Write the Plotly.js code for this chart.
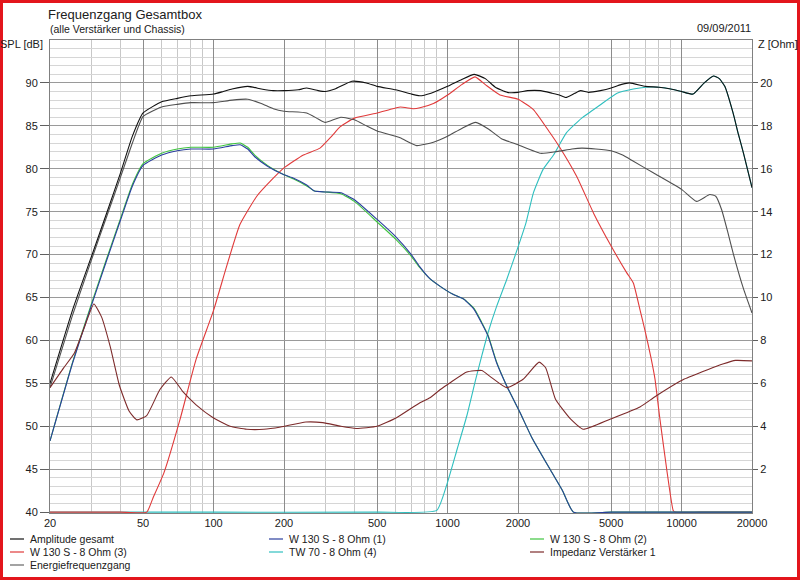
<!DOCTYPE html>
<html>
<head>
<meta charset="utf-8">
<script src="https://cdn.plot.ly/plotly-3.0.1.min.js"></script>
<style>
  html, body { margin: 0; padding: 0; background: #ffffff; }
  #chart { width: 800px; height: 580px; }
</style>
</head>
<body>
<div id="chart"></div>
<script>
// ---------- data ----------
const ampFreq = [20, 25, 30, 35, 40, 45, 50, 60, 70, 80, 100, 110, 120, 140, 160, 180, 200, 230, 250, 280, 300, 330, 390, 450, 500, 600, 700, 760, 850, 1000, 1150, 1300, 1450, 1600, 1800, 2000, 2200, 2500, 2800, 3000, 3200, 3500, 3700, 4000, 4500, 5000, 5500, 6000, 7000, 8000, 9000, 10000, 11200, 12500, 13700, 14500, 15300, 16600, 17500, 18400, 20000];
const ampSPL  = [55.0, 63.6, 69.7, 74.9, 79.5, 83.8, 86.5, 87.8, 88.2, 88.5, 88.7, 89.0, 89.3, 89.6, 89.3, 89.1, 89.1, 89.2, 89.4, 89.1, 89.0, 89.3, 90.2, 90.0, 89.6, 89.2, 88.7, 88.5, 88.8, 89.6, 90.4, 91.0, 90.5, 89.5, 88.9, 88.9, 89.1, 89.1, 88.8, 88.6, 88.3, 88.8, 89.1, 88.9, 89.1, 89.4, 89.8, 90.0, 89.6, 89.5, 89.3, 89.0, 88.7, 90.0, 90.8, 90.5, 89.6, 86.5, 84.0, 81.8, 77.8];

const energyFreq = [20, 25, 30, 35, 40, 45, 50, 60, 70, 80, 100, 120, 140, 160, 180, 200, 250, 280, 300, 350, 400, 450, 500, 627, 738, 870, 1000, 1150, 1320, 1500, 1700, 2000, 2500, 2930, 3400, 3750, 4300, 5000, 5600, 6200, 7600, 10000, 11600, 13200, 14000, 14850, 15800, 16600, 18400, 20000];
const energySPL  = [54.5, 63.0, 69.3, 74.5, 79.0, 83.0, 86.1, 87.2, 87.5, 87.7, 87.7, 88.0, 88.1, 87.6, 87.0, 86.7, 86.5, 85.8, 85.4, 86.0, 85.7, 85.0, 84.4, 83.6, 82.7, 83.1, 83.8, 84.7, 85.4, 84.6, 83.5, 82.8, 81.8, 82.0, 82.3, 82.4, 82.3, 82.1, 81.6, 80.9, 79.5, 77.6, 76.2, 77.0, 76.8, 75.2, 72.5, 70.2, 66.0, 63.2];

const woof1Freq = [20, 25, 30, 35, 40, 45, 50, 60, 70, 80, 100, 120, 130, 140, 150, 170, 200, 220, 250, 270, 300, 350, 400, 500, 600, 700, 760, 840, 930, 1050, 1175, 1300, 1400, 1490, 1620, 1790, 2040, 2290, 2740, 3100, 3450, 5000, 10000, 20000];
const woof1SPL  = [48.3, 57.4, 64.0, 69.4, 74.0, 78.0, 80.4, 81.6, 82.1, 82.3, 82.3, 82.7, 82.8, 82.3, 81.4, 80.3, 79.3, 78.9, 78.1, 77.4, 77.3, 77.2, 76.4, 74.1, 72.1, 70.0, 68.6, 67.2, 66.3, 65.4, 64.8, 63.6, 62.0, 60.5, 57.4, 54.7, 51.6, 48.7, 45.0, 42.5, 40.0, 40.0, 40.0, 40.0];

const woof2Freq = [20, 25, 30, 35, 40, 45, 50, 60, 70, 80, 100, 120, 130, 140, 150, 170, 200, 220, 250, 270, 300, 350, 400, 500, 600, 700, 760, 840, 930, 1050, 1175, 1300, 1400, 1490, 1620, 1790, 2040, 2290, 2740, 3100, 3450, 5000, 10000, 20000];
const woof2SPL  = [48.3, 57.5, 64.2, 69.6, 74.2, 78.2, 80.6, 81.8, 82.3, 82.5, 82.5, 82.9, 83.0, 82.5, 81.6, 80.4, 79.3, 78.8, 78.0, 77.4, 77.3, 77.1, 76.2, 73.8, 71.8, 69.8, 68.5, 67.2, 66.3, 65.4, 64.8, 63.7, 62.1, 60.6, 57.5, 54.7, 51.6, 48.7, 45.0, 42.5, 40.0, 40.0, 40.0, 40.0];

const woof3Freq = [20, 30, 40, 51.8, 55, 61.4, 71.9, 84.2, 100, 113.6, 129.6, 153, 180, 200, 242, 285, 320, 348, 400, 500, 567, 627, 715, 762, 870, 1000, 1150, 1310, 1450, 1675, 2000, 2327, 2740, 3000, 3565, 4212, 5000, 5825, 6220, 6640, 7000, 7400, 7700, 8050, 8640, 9210, 9400, 12000, 20000];
const woof3SPL  = [40.0, 40.0, 40.0, 40.0, 41.6, 44.6, 50.8, 57.8, 63.5, 68.6, 73.5, 76.8, 78.9, 80.1, 81.6, 82.4, 83.8, 84.9, 85.9, 86.5, 86.9, 87.2, 87.0, 87.1, 87.6, 88.6, 89.8, 90.7, 89.8, 88.6, 88.1, 86.9, 84.2, 82.6, 79.1, 74.8, 71.0, 67.9, 66.7, 63.6, 61.0, 58.0, 55.5, 51.2, 45.0, 40.2, 40.0, 40.0, 40.0];

const tweetFreq = [20, 100, 500, 899, 990, 1098, 1208, 1320, 1400, 1489, 1622, 1790, 1973, 2163, 2327, 2557, 2837, 3225, 3742, 4470, 5300, 6220, 7040, 8000, 9000, 10000, 11200, 12500, 13700, 14500, 15300, 16600, 17500, 18400, 20000];
const tweetSPL  = [40.0, 40.0, 40.0, 40.2, 43.1, 47.3, 51.2, 55.5, 58.2, 60.9, 64.0, 67.1, 70.4, 73.7, 77.2, 79.9, 81.6, 84.2, 85.9, 87.4, 88.8, 89.3, 89.5, 89.5, 89.3, 89.0, 88.7, 90.0, 90.8, 90.5, 89.6, 86.5, 84.0, 81.8, 77.8];

const impFreq = [20, 22.8, 25.4, 27.8, 30.8, 33.2, 36.2, 39.6, 43.6, 47, 51.8, 58.9, 66, 74.1, 84.2, 99.6, 117.6, 138.8, 163.9, 193.6, 248, 293, 350, 407, 500, 605, 762, 841, 928, 1026, 1208, 1400, 1513, 1790, 2102, 2460, 2625, 2893, 3359, 3804, 4946, 6640, 7753, 10270, 13000, 15000, 17000, 20000];
const impOhm  = [5.8, 6.7, 7.4, 8.5, 9.7, 9.1, 7.7, 5.9, 4.7, 4.3, 4.5, 5.7, 6.3, 5.6, 5.0, 4.4, 4.0, 3.86, 3.86, 3.97, 4.2, 4.17, 4.0, 3.9, 4.0, 4.4, 5.1, 5.33, 5.7, 6.03, 6.53, 6.6, 6.34, 5.8, 6.19, 6.99, 6.73, 5.26, 4.33, 3.86, 4.33, 4.9, 5.4, 6.2, 6.65, 6.9, 7.07, 7.05];

const xTickVals   = [20, 50, 100, 200, 500, 1000, 2000, 5000, 10000, 20000];
const xTickText   = ["20", "50", "100", "200", "500", "1000", "2000", "5000", "10000", "20000"];
const xMinorVals  = [30, 40, 60, 70, 80, 90, 300, 400, 600, 700, 800, 900, 3000, 4000, 6000, 7000, 8000, 9000];
const yTickVals   = [40, 45, 50, 55, 60, 65, 70, 75, 80, 85, 90];
const y2TickVals  = [2, 4, 6, 8, 10, 12, 14, 16, 18, 20];

const seriesNames = ["Amplitude gesamt", "W 130 S - 8 Ohm (1)", "W 130 S - 8 Ohm (2)",
                     "W 130 S - 8 Ohm (3)", "TW 70 - 8 Ohm (4)", "Impedanz Verstärker 1",
                     "Energiefrequenzgang"];

// ---------- styling ----------
const C = {
  amp: "#111111", w1: "#2a3f9e", w2: "#3fc43f", w3: "#e03a3a",
  tw: "#2fbfbf", imp: "#7d2b2b", energy: "#505050"
};
const FONT = "Liberation Sans, Arial, sans-serif";
const TXT = "#202020";

// plot area in pixels: x 50..752, y 40..513
const L = 50, R = 752, T = 40, B = 513;
const px = x => (x - L) / (R - L);
const py = y => (B - y) / (B - T);

function line(x, y, color, name, yaxis) {
  return {
    type: "scatter", mode: "lines", x: x, y: y, name: name,
    yaxis: yaxis || "y", showlegend: false, hoverinfo: "skip",
    line: { color: color, width: 1.1, shape: "spline", smoothing: 0.45 }
  };
}

const traces = [
  line(tweetFreq, tweetSPL, C.tw, seriesNames[4]),
  line(woof3Freq, woof3SPL, C.w3, seriesNames[3]),
  line(woof2Freq, woof2SPL, C.w2, seriesNames[2]),
  line(woof1Freq, woof1SPL, C.w1, seriesNames[1]),
  line(impFreq, impOhm, C.imp, seriesNames[5], "y2"),
  line(energyFreq, energySPL, C.energy, seriesNames[6]),
  line(ampFreq, ampSPL, C.amp, seriesNames[0])
];

// custom legend (3 columns x 3 rows, like the reference)
const legendItems = [
  [seriesNames[0], C.amp, 0, 0], [seriesNames[1], C.w1, 1, 0], [seriesNames[2], C.w2, 2, 0],
  [seriesNames[3], C.w3, 0, 1], [seriesNames[4], C.tw, 1, 1], [seriesNames[5], C.imp, 2, 1],
  [seriesNames[6], "#666666", 0, 2]
];
const colText = [28, 287, 548];
const rowY = [539, 552, 565];

function note(text, x, y, anchor, size) {
  return { text: text, x: px(x), y: py(y), xref: "paper", yref: "paper",
    xanchor: anchor, yanchor: "middle", showarrow: false,
    font: { family: FONT, size: size, color: TXT } };
}

const annotations = [
  note("(alle Verstärker und Chassis)", 48, 29, "left", 10.5),
  note("09/09/2011", 753, 28, "right", 11),
  note("SPL [dB]", 45, 44, "right", 11),
  note("Z [Ohm]", 756, 44, "left", 11)
];
const shapes = [];
legendItems.forEach(it => {
  const tx = colText[it[2]], ty = rowY[it[3]];
  annotations.push(note(it[0], tx, ty, "left", 10.5));
  shapes.push({ type: "line", xref: "paper", yref: "paper",
    x0: px(tx - 18), x1: px(tx - 4), y0: py(ty), y1: py(ty),
    line: { color: it[1], width: 1.2 } });
});
// red picture frame
shapes.push({ type: "rect", xref: "paper", yref: "paper", layer: "above",
  x0: px(1.5), x1: px(798.5), y0: py(578.5), y1: py(1.5),
  line: { color: "#e3161c", width: 3 } });

// SPL and impedance axes share the grid: Z = (SPL - 40) / 2.5
const splRange = [39.9, 95];
const zRange = [(splRange[0] - 40) / 2.5, (splRange[1] - 40) / 2.5];

const layout = {
  width: 800, height: 580,
  margin: { l: L, r: 800 - R, t: T, b: 580 - B, autoexpand: false },
  paper_bgcolor: "#ffffff", plot_bgcolor: "#ffffff",
  showlegend: false,
  title: { text: "Frequenzgang Gesamtbox", x: 48 / 800, xanchor: "left", xref: "container",
           y: 1 - 14 / 580, yanchor: "middle", yref: "container",
           font: { family: FONT, size: 13, color: TXT } },
  font: { family: FONT, size: 11, color: TXT },
  xaxis: {
    type: "log", range: [Math.log10(20), Math.log10(20000)],
    tickmode: "array", tickvals: xTickVals, ticktext: xTickText,
    ticks: "", showgrid: true, gridcolor: "#8c8c8c", gridwidth: 1,
    minor: { tickmode: "array", tickvals: xMinorVals, showgrid: true, gridcolor: "#c8c8c8", ticks: "" },
    showline: true, mirror: true, linecolor: "#808080", zeroline: false,
    tickfont: { family: FONT, size: 11, color: TXT }
  },
  yaxis: {
    range: splRange, tickmode: "array", tickvals: yTickVals,
    ticks: "outside", ticklen: 9, tickcolor: "#606060",
    showgrid: true, gridcolor: "#9a9a9a", gridwidth: 1,
    minor: { dtick: 1, tick0: 40, showgrid: true, gridcolor: "#d6d6d6", ticks: "" },
    showline: true, mirror: true, linecolor: "#808080", zeroline: false,
    tickfont: { family: FONT, size: 11, color: TXT }
  },
  yaxis2: {
    overlaying: "y", side: "right", range: zRange, tickmode: "array", tickvals: y2TickVals,
    ticks: "outside", ticklen: 5, tickcolor: "#606060",
    showgrid: false, zeroline: false, showline: false,
    tickfont: { family: FONT, size: 11, color: TXT }
  },
  annotations: annotations,
  shapes: shapes
};

Plotly.newPlot("chart", traces, layout, { staticPlot: true, displayModeBar: false });
</script>
</body>
</html>
